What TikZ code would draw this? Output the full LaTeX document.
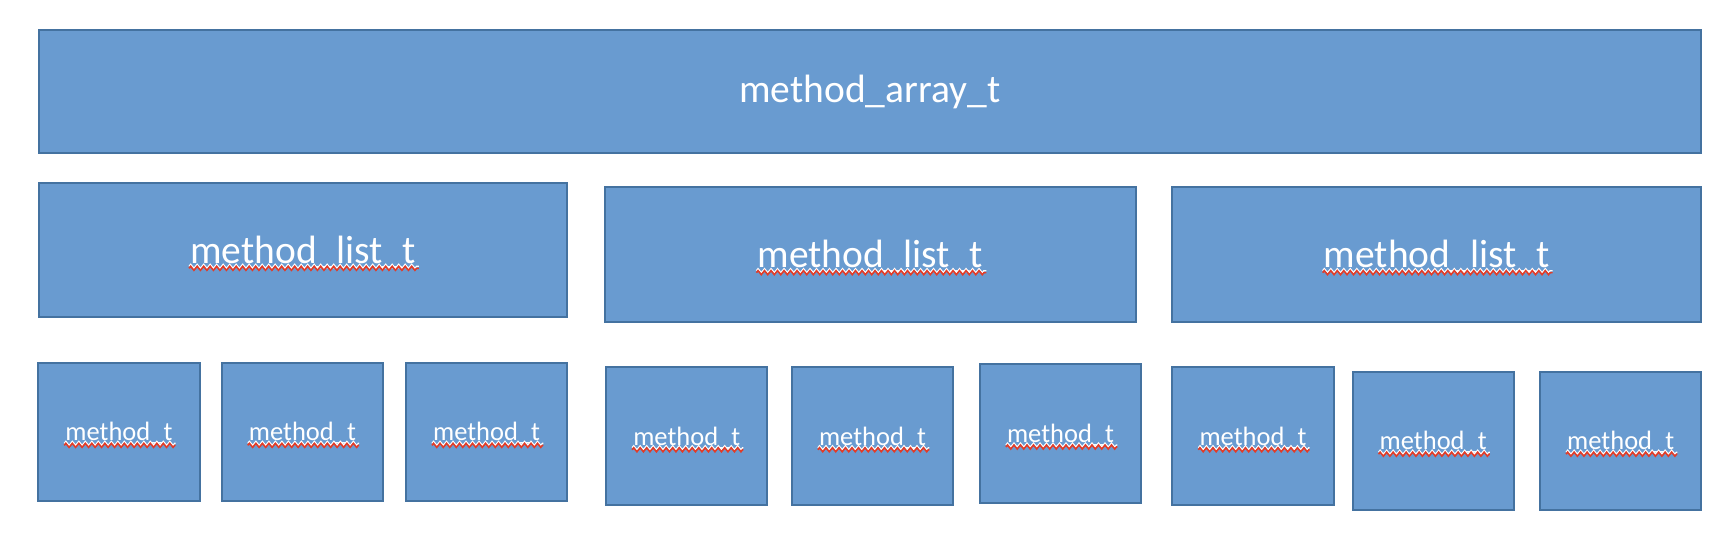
\documentclass[tikz,border=0pt]{standalone}
\usepackage{fontspec}
\newfontfamily\carlito{Carlito}
\usetikzlibrary{decorations.pathmorphing}
\definecolor{boxfill}{RGB}{105,155,208}
\definecolor{boxline}{RGB}{68,114,160}
\definecolor{squigred}{RGB}{226,60,40}
\begin{document}
\begin{tikzpicture}[x=1pt,y=-1pt,
  blk/.style={draw=boxline, fill=boxfill, line width=2pt, inner sep=0pt},
  bigbox/.style={blk, minimum height=134.9pt},
  smbox/.style={blk, minimum width=161.4pt, minimum height=138.3pt},
  bigtxt/.style={text=white, font=\carlito\fontsize{39.5}{47}\selectfont, inner sep=0pt, anchor=base},
  smtxt/.style={text=white, font=\carlito\fontsize{26.5}{32}\selectfont, inner sep=0pt, anchor=base},
  squigw/.style={draw=white, line width=1.3pt, decorate, decoration={zigzag, segment length=6.5pt, amplitude=2pt}},
  squig/.style={draw=squigred, line width=1.6pt, decorate, decoration={zigzag, segment length=6.5pt, amplitude=2pt}}]
\useasboundingbox (0,0) rectangle (1734,548);
\fill[white] (0,0) rectangle (1734,548);

% top array
\node[blk, minimum width=1662.2pt, minimum height=122.7pt] (arr) at (869.8,91.2) {};
\node[bigtxt] (tarr) at (869.8,102.9) {method\_array\_t};

% lists
\node[bigbox, minimum width=528.6pt] (l1) at (303.0,250.0) {};
\node[bigbox, minimum width=530.9pt] (l2) at (870.35,254.35) {};
\node[bigbox, minimum width=528.6pt] (l3) at (1436.6,254.35) {};
\node[bigtxt] (tl1) at (303.0,263.3) {method\_list\_t};
\node[bigtxt] (tl2) at (870.35,267.65) {method\_list\_t};
\node[bigtxt] (tl3) at (1436.6,267.65) {method\_list\_t};

% methods
\node[smbox] (m1) at (118.9,431.85) {};
\node[smbox] (m2) at (302.45,431.85) {};
\node[smbox] (m3) at (486.6,431.85) {};
\node[smbox] (m4) at (686.75,436.25) {};
\node[smbox] (m5) at (872.55,436.25) {};
\node[smbox] (m6) at (1060.55,433.5) {};
\node[smbox] (m7) at (1253.0,436.25) {};
\node[smbox] (m8) at (1433.2,440.7) {};
\node[smbox] (m9) at (1620.7,440.7) {};
\node[smtxt] (tm1) at (118.9,440.85) {method\_t};
\node[smtxt] (tm2) at (302.45,440.85) {method\_t};
\node[smtxt] (tm3) at (486.6,440.85) {method\_t};
\node[smtxt] (tm4) at (686.75,445.25) {method\_t};
\node[smtxt] (tm5) at (872.55,445.25) {method\_t};
\node[smtxt] (tm6) at (1060.55,442.5) {method\_t};
\node[smtxt] (tm7) at (1253.0,445.25) {method\_t};
\node[smtxt] (tm8) at (1433.2,449.7) {method\_t};
\node[smtxt] (tm9) at (1620.7,449.7) {method\_t};

% spell-check squiggles
\foreach \t in {tl1,tl2,tl3} {
  \draw[squigw] ([xshift=-1pt,yshift=-3pt]\t.base west) -- ([xshift=3pt,yshift=-3pt]\t.base east);
  \draw[squig] ([xshift=-1pt,yshift=-5pt]\t.base west) -- ([xshift=3pt,yshift=-5pt]\t.base east);
}
\foreach \t in {tm1,tm2,tm3,tm4,tm5,tm6,tm7,tm8,tm9} {
  \draw[squigw] ([xshift=-1pt,yshift=-2.5pt]\t.base west) -- ([xshift=3pt,yshift=-2.5pt]\t.base east);
  \draw[squig] ([xshift=-1pt,yshift=-4.5pt]\t.base west) -- ([xshift=3pt,yshift=-4.5pt]\t.base east);
}
\end{tikzpicture}
\end{document}
